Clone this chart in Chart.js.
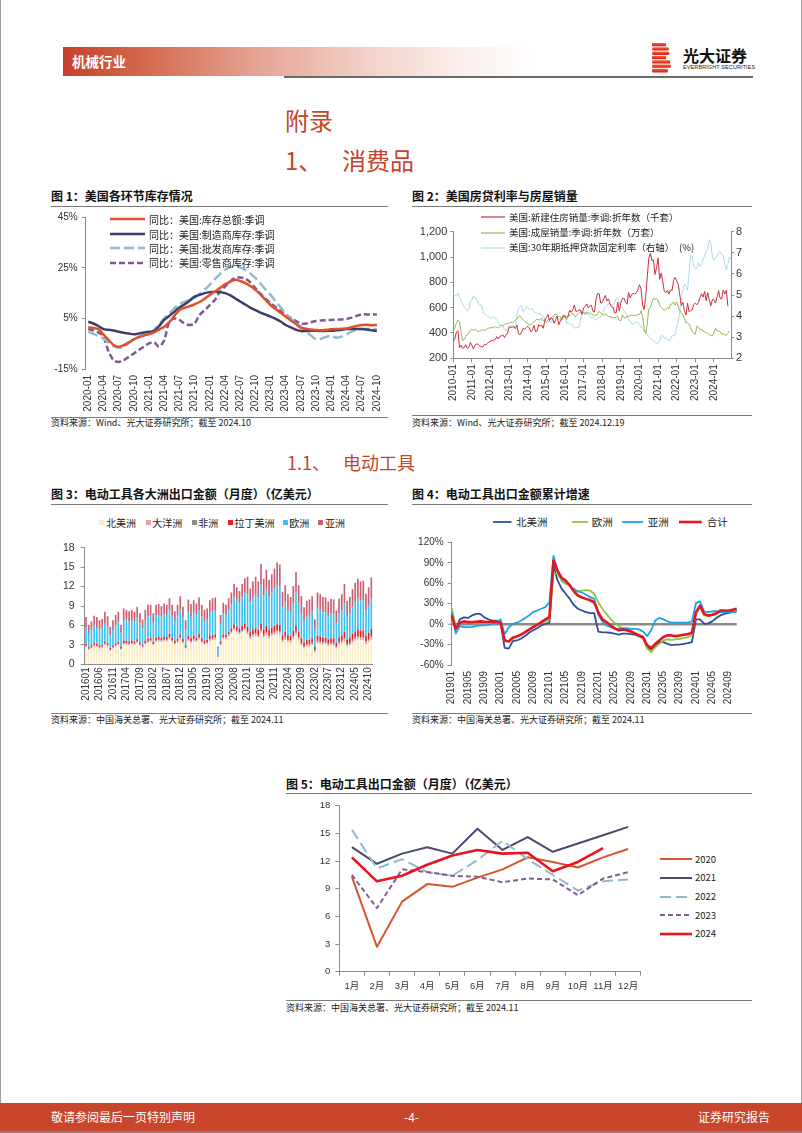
<!DOCTYPE html>
<html lang="zh-CN">
<head>
<meta charset="utf-8">
<title>机械行业 附录</title>
<script src="https://cdn.jsdelivr.net/npm/chart.js@4.4.1/dist/chart.umd.min.js"></script>
<style>
html,body{margin:0;padding:0;}
body{width:802px;height:1133px;position:relative;overflow:hidden;background:#fff;font-family:"Noto Sans CJK SC","Liberation Sans",sans-serif;color:#000;}
.a{position:absolute;white-space:nowrap;line-height:1;}
.hl{position:absolute;height:1px;background:#7a7a7a;}
.ttl{font-size:12px;font-weight:700;color:#111;}
.src{font-size:9px;color:#222;}
canvas{position:absolute;}
.lgt{position:absolute;white-space:nowrap;line-height:1;color:#222;z-index:3;}
.lgs{position:absolute;z-index:3;}
</style>
</head>
<body>
<!-- page edges -->
<div class="a" style="left:0;top:0;width:1px;height:1133px;background:#a0a0a0"></div>
<div class="a" style="left:801px;top:0;width:1px;height:1133px;background:#a0a0a0"></div>

<!-- header -->
<div class="a" style="left:63px;top:47px;width:474px;height:29px;background:linear-gradient(90deg,#C6412A 0%,#D46A50 18%,#E4A291 40%,#F2D3CA 65%,#FBF1EE 85%,#ffffff 100%)"></div>
<div class="a" style="left:72px;top:55px;font-size:13.5px;font-weight:700;color:#fff">机械行业</div>
<div class="a" style="left:284px;top:75.5px;width:469px;height:2px;background:#6a6a6a"></div>
<svg class="a" style="left:652px;top:43px" width="20" height="30" viewBox="0 0 20 30">
<defs><linearGradient id="lgr" x1="0" y1="0" x2="0" y2="1"><stop offset="0" stop-color="#F36A2B"/><stop offset="1" stop-color="#D7172B"/></linearGradient></defs>
<g fill="url(#lgr)">
<rect x="0" y="0" width="14" height="3.3"/>
<rect x="0" y="4.3" width="17" height="3.3" rx="1.6"/>
<rect x="0" y="8.6" width="17.5" height="3.3" rx="1.6"/>
<rect x="0" y="12.9" width="14" height="3.3"/>
<rect x="0" y="17.2" width="18.5" height="3.3" rx="1.6"/>
<rect x="0" y="21.5" width="19" height="3.3" rx="1.6"/>
<rect x="0" y="25.8" width="16" height="3.6" rx="1.2"/>
</g></svg>
<div class="a" style="left:683px;top:46.5px;font-size:16px;font-weight:700;color:#111">光大证券</div>
<div class="a" style="left:683px;top:64px;font-size:11px;font-family:'Liberation Sans',sans-serif;color:#222;transform:scale(0.5);transform-origin:0 0;letter-spacing:0.2px">EVERBRIGHT SECURITIES</div>

<!-- headings -->
<div class="a" style="left:285px;top:107.5px;font-size:24px;color:#C4452B">附录</div>
<div class="a" style="left:285px;top:147.5px;font-size:24px;color:#C4452B">1、</div>
<div class="a" style="left:342px;top:147.5px;font-size:24px;color:#C4452B">消费品</div>
<div class="a" style="left:287px;top:452.5px;font-size:18px;color:#C4452B">1.1、</div>
<div class="a" style="left:343px;top:452.5px;font-size:18px;color:#C4452B">电动工具</div>

<!-- figure titles, rules, sources -->
<div class="a ttl" style="left:51px;top:190px">图 1：美国各环节库存情况</div>
<div class="hl" style="left:51px;top:205.5px;width:337px"></div>
<div class="hl" style="left:51px;top:416.5px;width:337px"></div>
<div class="a src" style="left:51px;top:418px">资料来源：Wind、光大证券研究所；截至 2024.10</div>

<div class="a ttl" style="left:412px;top:190px">图 2：美国房贷利率与房屋销量</div>
<div class="hl" style="left:412px;top:205.5px;width:340px"></div>
<div class="hl" style="left:412px;top:415px;width:340px"></div>
<div class="a src" style="left:412px;top:418px">资料来源：Wind、光大证券研究所；截至 2024.12.19</div>

<div class="a ttl" style="left:51px;top:487.5px">图 3：电动工具各大洲出口金额（月度）（亿美元）</div>
<div class="hl" style="left:51px;top:503.5px;width:337px"></div>
<div class="hl" style="left:51px;top:713px;width:337px"></div>
<div class="a src" style="left:51px;top:715px">资料来源：中国海关总署、光大证券研究所；截至 2024.11</div>

<div class="a ttl" style="left:412px;top:487.5px">图 4：电动工具出口金额累计增速</div>
<div class="hl" style="left:412px;top:503.5px;width:340px"></div>
<div class="hl" style="left:412px;top:713px;width:340px"></div>
<div class="a src" style="left:412px;top:715px">资料来源：中国海关总署、光大证券研究所；截至 2024.11</div>

<div class="a ttl" style="left:286px;top:777.5px">图 5：电动工具出口金额（月度）（亿美元）</div>
<div class="hl" style="left:286px;top:792.5px;width:466px"></div>
<div class="hl" style="left:286px;top:1000px;width:466px"></div>
<div class="a src" style="left:286px;top:1003px">资料来源：中国海关总署、光大证券研究所；截至 2024.11</div>

<!-- footer -->
<div class="a" style="left:0;top:1103px;width:802px;height:28px;background:#C9452B"></div>
<div class="a" style="left:0;top:1131px;width:802px;height:2px;background:#8d7f76"></div>
<div class="a" style="left:51px;top:1111px;font-size:12px;color:#fff">敬请参阅最后一页特别声明</div>
<div class="a" style="left:404px;top:1111px;font-size:12px;color:#fff">-4-</div>
<div class="a" style="left:698px;top:1111px;font-size:12px;color:#fff">证券研究报告</div>

<script>
// ================= DATA =================
// Figure 1: US inventories YoY (%), 2020-01 .. 2024-10
const c1Names = ['同比：美国:库存总额:季调','同比：美国:制造商库存:季调','同比：美国:批发商库存:季调','同比：美国:零售商库存:季调'];
const c1Total = [1.5,1.2,0.8,-1.3,-3.5,-5.5,-6.2,-5.6,-4.5,-3.3,-2.4,-1.8,
  -1.2,-0.5,0.6,1.7,3.5,6.0,8.3,9.2,9.8,10.6,11.5,12.8,
  14.3,15.6,17.0,18.5,19.5,20.3,19.8,19.0,17.8,16.3,14.5,12.3,
  10.3,8.7,7.2,5.7,4.2,2.8,1.3,0.9,0.6,0.4,0.3,0.5,
  0.7,0.8,0.9,1.0,1.5,2.0,2.4,2.5,2.3,2.4];
const c1Manuf = [3.7,3.0,2.0,0.8,0.5,0.2,-0.3,-0.7,-1.0,-1.3,-1.0,-0.6,
  -0.3,0.0,2.0,4.4,6.0,7.6,9.3,10.5,12.0,13.6,14.3,15.0,
  15.4,15.6,15.4,15.0,14.2,13.0,11.7,10.5,9.3,8.3,7.3,6.5,
  5.7,4.8,3.8,2.4,1.5,0.6,0.0,0.0,0.1,0.1,0.0,0.1,
  0.1,0.3,0.5,0.8,0.8,0.8,0.8,0.6,0.3,0.0];
const c1Whole = [-0.3,-1.0,-2.0,-3.0,-4.5,-6.0,-6.6,-6.0,-4.8,-3.2,-2.2,-1.5,
  -1.0,0.5,2.8,5.0,7.0,9.0,10.6,11.5,12.3,13.2,14.8,16.5,
  18.3,20.5,22.5,24.2,25.3,25.8,25.2,24.2,22.8,21.0,18.8,16.5,
  14.3,11.8,9.4,7.0,5.0,3.2,1.7,0.0,-1.8,-3.2,-3.0,-2.3,
  -1.9,-2.6,-2.2,-1.3,-0.2,0.5,0.8,0.9,0.8,0.8];
const c1Retail = [0.8,0.3,-0.5,-2.2,-8.0,-11.5,-12.2,-11.5,-10.2,-8.9,-7.5,-6.2,
  -4.9,-4.5,-6.2,-3.6,3.7,5.0,4.4,3.0,2.4,3.0,6.4,8.3,
  10.3,12.3,15.6,17.6,19.6,21.0,21.2,20.7,19.3,17.0,14.8,12.8,
  11.0,9.5,8.0,6.4,5.2,4.0,3.0,3.0,3.5,4.0,4.2,4.3,
  4.4,4.5,4.6,4.8,5.3,6.0,6.6,6.6,6.5,6.6];
const c1YTicks = {min:-15, max:45, step:20};

// Figure 2: US housing, 2010-01 .. 2024-12
const c2Names = ['美国:新建住房销量:季调:折年数（千套）','美国:成屋销量:季调:折年数（万套）','美国:30年期抵押贷款固定利率（右轴）　(%)'];
const c2NewHome = [336,354,408,417,283,304,278,284,307,278,286,325,
  301,274,303,313,311,298,292,290,309,306,317,331,
  334,344,339,348,371,352,372,378,385,364,385,400,
  451,445,445,452,433,462,394,386,406,436,429,442,
  453,440,410,421,460,410,415,466,454,462,437,501,
  521,545,497,517,513,476,507,531,465,494,514,539,
  525,525,534,580,563,582,622,570,574,581,581,548,
  599,609,630,599,612,619,571,566,667,711,711,636,
  641,669,697,653,670,631,607,605,558,560,643,573,
  641,672,675,644,627,720,677,705,712,709,717,740,
  781,748,622,586,688,836,990,1029,973,977,862,915,
  993,824,874,809,728,719,737,707,741,737,816,839,
  811,785,699,618,642,571,543,637,567,577,582,625,
  636,623,640,679,710,683,728,654,719,664,615,664,
  663,637,683,736,672,668,739,709,738,610];
const c2Existing = [416,440,476,503,489,410,340,350,372,385,400,420,
  430,420,430,420,410,415,420,425,420,425,435,440,
  440,445,440,450,445,440,450,460,455,465,475,470,
  480,485,480,490,500,510,530,535,520,505,490,485,
  470,465,465,475,490,500,510,505,505,520,495,505,
  490,500,515,520,530,545,550,540,530,530,500,540,
  540,505,525,540,545,555,535,530,545,555,565,555,
  565,545,565,555,560,550,545,540,535,550,570,560,
  545,540,550,540,530,530,525,520,520,525,530,500,
  495,545,520,520,530,530,540,540,540,540,535,550,
  545,575,530,435,395,470,590,600,640,674,665,670,
  660,620,600,590,580,590,600,590,625,630,645,620,
  645,605,575,560,540,510,480,480,470,440,410,400,
  390,455,445,428,430,416,407,405,396,385,382,378,
  400,437,418,415,410,390,395,386,384,396,415];
const c2Rate = [5.03,4.99,4.97,5.10,4.89,4.74,4.56,4.43,4.35,4.23,4.30,4.71,
  4.76,4.95,4.84,4.84,4.64,4.51,4.55,4.27,4.11,4.07,3.99,3.96,
  3.92,3.89,3.95,3.91,3.80,3.68,3.55,3.60,3.50,3.38,3.35,3.35,
  3.41,3.53,3.57,3.45,3.54,4.07,4.37,4.46,4.49,4.19,4.26,4.46,
  4.43,4.30,4.34,4.34,4.19,4.16,4.13,4.12,4.16,4.04,4.00,3.86,
  3.67,3.71,3.77,3.67,3.84,3.98,4.05,3.91,3.89,3.80,3.94,3.96,
  3.87,3.66,3.69,3.61,3.60,3.57,3.44,3.44,3.46,3.47,3.77,4.20,
  4.15,4.17,4.20,4.05,4.01,3.90,3.97,3.88,3.81,3.90,3.92,3.95,
  4.03,4.33,4.44,4.47,4.59,4.57,4.53,4.55,4.63,4.83,4.87,4.64,
  4.46,4.37,4.27,4.14,4.07,3.80,3.77,3.62,3.61,3.69,3.70,3.72,
  3.62,3.47,3.45,3.31,3.23,3.16,3.02,2.94,2.89,2.83,2.77,2.68,
  2.74,2.81,3.08,3.06,2.96,2.98,2.87,2.84,2.90,3.07,3.07,3.10,
  3.45,3.76,4.17,4.98,5.23,5.52,5.41,5.22,6.11,6.90,6.81,6.36,
  6.27,6.26,6.54,6.34,6.43,6.71,6.84,7.07,7.20,7.62,7.44,6.82,
  6.64,6.78,6.82,7.04,7.06,6.92,6.85,6.50,6.18,6.43,6.81,6.70];

// Figure 3: power tool exports by continent (亿美元), 2016-01 .. 2024-11
const c3Names = ['北美洲','大洋洲','非洲','拉丁美洲','欧洲','亚洲'];
const c3NA = [2.6,2.2,2.4,2.7,2.6,2.4,2.5,2.9,2.7,2.1,2.4,2.7,
  2.9,2.2,3.0,3.0,2.9,3.0,2.9,3.2,2.8,2.5,3.0,3.3,
  3.4,2.9,3.4,3.5,3.4,3.5,3.5,3.9,3.4,3.0,3.3,3.8,
  3.2,2.4,3.6,3.3,3.6,3.4,3.8,3.3,3.0,3.1,3.6,3.7,
  3.8,1.1,2.9,3.9,3.9,4.3,4.7,5.2,4.9,4.6,4.9,5.2,
  4.6,3.9,4.2,4.3,4.1,4.8,4.1,4.5,4.0,4.3,4.5,4.7,
  4.6,3.4,3.8,3.4,3.3,3.9,4.5,3.7,2.9,2.4,2.7,2.7,
  2.9,1.9,3.2,3.1,3.0,3.0,2.8,2.9,2.9,2.4,3.0,3.2,
  3.5,2.7,2.9,3.3,3.6,3.8,3.7,3.7,3.1,3.4,3.8];
const c3OC = [0.15,0.12,0.13,0.15,0.15,0.14,0.14,0.16,0.15,0.12,0.14,0.15,
  0.16,0.12,0.17,0.17,0.16,0.17,0.16,0.18,0.16,0.14,0.17,0.18,
  0.18,0.15,0.18,0.18,0.17,0.18,0.18,0.20,0.18,0.16,0.18,0.20,
  0.17,0.13,0.19,0.18,0.19,0.18,0.20,0.18,0.16,0.17,0.19,0.20,
  0.20,0.05,0.15,0.18,0.18,0.20,0.22,0.25,0.24,0.23,0.25,0.27,
  0.28,0.24,0.27,0.29,0.27,0.33,0.28,0.31,0.28,0.30,0.32,0.34,
  0.34,0.25,0.27,0.24,0.23,0.27,0.31,0.27,0.24,0.20,0.22,0.23,
  0.24,0.16,0.25,0.25,0.24,0.24,0.22,0.23,0.23,0.19,0.23,0.25,
  0.30,0.24,0.25,0.28,0.30,0.32,0.31,0.31,0.26,0.29,0.32];
const c3AF = [0.10,0.08,0.09,0.10,0.10,0.09,0.10,0.11,0.10,0.08,0.09,0.10,
  0.11,0.09,0.12,0.12,0.11,0.12,0.11,0.12,0.11,0.10,0.12,0.13,
  0.12,0.10,0.12,0.12,0.12,0.12,0.12,0.13,0.12,0.11,0.12,0.14,
  0.12,0.09,0.13,0.12,0.13,0.12,0.13,0.12,0.11,0.11,0.13,0.13,
  0.13,0.04,0.10,0.11,0.10,0.11,0.12,0.13,0.13,0.12,0.13,0.14,
  0.16,0.14,0.16,0.17,0.16,0.19,0.17,0.19,0.17,0.18,0.19,0.20,
  0.20,0.15,0.17,0.15,0.15,0.17,0.20,0.18,0.16,0.14,0.15,0.15,
  0.18,0.12,0.19,0.19,0.18,0.18,0.17,0.18,0.18,0.15,0.18,0.19,
  0.22,0.17,0.18,0.20,0.22,0.23,0.22,0.22,0.19,0.21,0.23];
const c3LA = [0.30,0.25,0.27,0.30,0.30,0.28,0.28,0.32,0.30,0.24,0.28,0.30,
  0.34,0.26,0.36,0.35,0.34,0.35,0.34,0.37,0.33,0.29,0.35,0.38,
  0.40,0.34,0.40,0.40,0.39,0.41,0.40,0.44,0.40,0.36,0.40,0.46,
  0.42,0.32,0.47,0.44,0.47,0.44,0.49,0.43,0.40,0.41,0.47,0.48,
  0.47,0.11,0.35,0.40,0.36,0.42,0.50,0.58,0.58,0.56,0.62,0.68,
  0.75,0.65,0.75,0.80,0.78,0.95,0.82,0.90,0.80,0.85,0.90,0.95,
  0.95,0.70,0.78,0.70,0.68,0.80,0.92,0.82,0.72,0.62,0.68,0.70,
  0.72,0.48,0.78,0.76,0.73,0.72,0.68,0.71,0.70,0.58,0.71,0.76,
  0.95,0.75,0.80,0.90,1.00,1.05,1.00,1.00,0.85,0.95,1.10];
const c3EU = [2.6,2.2,2.4,2.7,2.6,2.5,2.5,2.9,2.6,2.0,2.4,2.7,
  3.0,2.2,3.2,3.1,3.1,3.1,3.0,3.3,2.9,2.5,3.1,3.4,
  3.4,2.9,3.4,3.4,3.3,3.5,3.4,3.7,3.4,3.0,3.5,3.9,
  3.3,2.5,3.7,3.4,3.6,3.4,3.7,3.3,3.0,3.1,3.6,3.7,
  3.7,1.2,2.7,3.2,3.0,3.4,3.7,4.2,4.1,3.9,4.4,4.8,
  5.1,4.6,5.0,5.3,5.0,6.1,5.2,5.7,5.1,5.4,5.8,6.1,
  6.0,4.3,4.5,3.9,3.7,4.3,5.1,4.4,3.9,3.2,3.6,3.7,
  4.1,2.7,4.3,4.1,3.9,3.9,3.6,3.8,3.7,3.0,3.7,3.9,
  4.5,3.6,3.8,4.2,4.5,4.7,4.6,4.6,3.9,4.2,4.7];
const c3AS = [1.55,1.25,1.31,1.55,1.55,1.39,1.48,1.71,1.55,1.26,1.49,1.65,
  1.59,1.23,1.75,1.66,1.58,1.66,1.59,1.73,1.60,1.37,1.66,1.81,
  1.70,1.51,1.70,1.70,1.62,1.69,1.60,1.83,1.70,1.57,1.70,2.00,
  1.69,1.36,1.91,1.86,1.91,1.86,1.98,1.87,1.73,1.71,1.91,1.99,
  2.00,0.20,1.40,1.71,1.66,1.77,1.86,2.04,1.95,1.89,2.10,2.21,
  2.61,2.17,2.42,2.64,2.49,3.13,2.63,3.00,2.65,2.87,3.09,3.41,
  3.31,2.40,2.68,2.41,2.34,2.66,3.17,2.83,2.58,2.24,2.45,2.52,
  2.36,1.54,2.38,2.40,2.35,2.26,2.23,2.28,2.29,1.98,2.28,2.50,
  2.93,2.34,2.47,2.72,2.98,3.10,2.97,3.07,2.60,2.85,3.25];

// Figure 4: cumulative YoY growth (%), 2019-01 .. 2024-11
const c4Names = ['北美洲','欧洲','亚洲','合计'];
const c4NA = [15,-7,7,10,9,12.7,15,15,10,7,5,5,
  3,-35,-36,-25,-24,-21.5,-17.6,-12.7,-9,-6,-2,0.5,
  2,86,64,52,44.5,37,28,22.5,20,17.6,16,16,
  -11,-12,-12,-12.7,-14,-15.6,-14,-14,-14.7,-15.6,-17.6,-20.5,
  -34,-37,-31,-26.4,-26.4,-29,-31,-30,-30,-29,-28,-26.4,
  7,7,0.5,1,4,9,12.7,15,16.6,17.6,18.6];
const c4EU = [23.5,-4.4,2,3,2.5,2.4,2.2,2.0,1.8,1.6,1.5,2.0,
  2,-24,-25,-20.5,-19,-15.6,-11.7,-7.8,-4.4,-1,2,4,
  7,74,74,63,59,57,49,48,49,50,49,44.5,
  32,22.5,15,7.8,2,-3,-7,-7.8,-9,-12.7,-15.6,-19,
  -36,-41,-34,-29,-24,-22.5,-23,-22.5,-21.5,-20.5,-19,-16.6,
  15,25,12.7,11.7,12.7,15,17.6,18.6,18.6,19.6,20.5];
const c4AS = [17.6,-14,-3,-4.4,-4.4,-4,-3,-2,-2,-1,0.5,2,
  7,-15,-5,0.5,2,5,9,12.7,17.6,20,22.5,25,
  32,100,79,66,61.6,56,52,48,46,43,39.6,37,
  13.7,4,-2,-4.4,-7,-7,-6,-6,-7,-7,-7.8,-11,
  -17.6,-9,5.4,9,7,4,2,2,2,2,2,4,
  31,33,18.6,17.6,18.6,19,17.6,17.6,17.6,17.6,18.6];
const c4Total = [12.7,-7,2,4,3,3,3.5,4,3.5,3,4,3,
  2,-24,-25.5,-20,-18,-15.6,-12,-8,-4.4,-1,3,7,
  10,93,78,68,64,57,48,42,39,37,35,32,
  17.6,7,3,-2,-6,-9,-8,-9,-11,-14,-16.6,-19,
  -31,-35,-29,-24,-19,-16.6,-16.6,-17.6,-16.6,-15.6,-14.7,-13,
  17.6,27,15,12.7,13.7,16,20,20,19.6,21,22.5];

// Figure 5: monthly exports (亿美元) by year
const c5Months = ['1月','2月','3月','4月','5月','6月','7月','8月','9月','10月','11月','12月'];
const c5Names = ['2020','2021','2022','2023','2024'];
const c5Y2020 = [10.3,2.7,7.6,9.5,9.2,10.2,11.1,12.4,11.9,11.3,12.4,13.3];
const c5Y2021 = [13.5,11.7,12.8,13.5,12.8,15.5,13.2,14.6,13.0,13.9,14.8,15.7];
const c5Y2022 = [15.4,11.2,12.2,10.8,10.4,12.1,14.2,12.2,10.5,8.8,9.8,10.0];
const c5Y2023 = [10.5,6.9,11.1,10.8,10.4,10.3,9.7,10.1,10.0,8.3,10.1,10.8];
const c5Y2024 = [12.4,9.8,10.4,11.6,12.6,13.2,12.8,12.9,10.9,11.9,13.4];

// ================= HELPERS =================
const FONT = '"Liberation Sans","Noto Sans CJK SC",sans-serif';
Chart.defaults.font.family = FONT;
Chart.defaults.color = '#333';
Chart.defaults.animation = false;
const AX = '#8c8c8c';

function monthLabels(y0, m0, y1, m1, sep) {
  const out = [];
  for (let y = y0, m = m0; y < y1 || (y === y1 && m <= m1); ) {
    out.push(y + sep + String(m).padStart(2, '0'));
    m++; if (m > 12) { m = 1; y++; }
  }
  return out;
}
function mkCanvas(box) {
  const c = document.createElement('canvas');
  c.width = box.w; c.height = box.h;
  c.style.left = box.x + 'px'; c.style.top = box.y + 'px';
  c.style.width = box.w + 'px'; c.style.height = box.h + 'px';
  document.body.appendChild(c);
  return c;
}
function padFor(box, area, wl, wr, hb) {
  return {left: area.l - box.x - wl, right: box.x + box.w - area.r - wr,
          top: area.t - box.y, bottom: box.y + box.h - area.b - hb};
}
function yAxis(o) {
  return {
    type: 'linear', position: o.pos || 'left', min: o.min, max: o.max,
    ticks: {stepSize: o.step, font: {size: o.fs}, color: '#333', padding: o.tp, callback: o.cb},
    grid: Object.assign({display: true, drawOnChartArea: false, drawTicks: true, tickLength: o.tl, color: AX}, o.grid || {}),
    border: {display: true, color: AX, width: 1},
    afterFit(s) { s.width = o.w; }
  };
}
function xAxis(o) {
  return {
    type: 'category', offset: o.offset, stacked: !!o.stacked,
    ticks: {autoSkip: false, maxRotation: o.rot, minRotation: o.rot, font: {size: o.fs}, color: '#333', padding: o.tp},
    grid: o.grid,
    border: {display: o.border, color: AX, width: 1},
    afterBuildTicks: o.every ? (s) => { s.ticks = s.ticks.filter(t => t.value % o.every === 0); } : undefined,
    afterFit(s) { s.height = o.h; }
  };
}
function lineLegend(items) {
  items.forEach(it => {
    const w = it.x2 - it.x1;
    const dash = it.dash && it.dash.length ? ` stroke-dasharray="${it.dash.join(' ')}"` : '';
    document.body.insertAdjacentHTML('beforeend',
      `<svg class="lgs" width="${w}" height="8" style="left:${it.x1}px;top:${it.y - 4}px"><line x1="0" y1="4" x2="${w}" y2="4" stroke="${it.color}" stroke-width="${it.width}"${dash}/></svg>` +
      `<div class="lgt" style="left:${it.tx}px;top:${(it.y - it.fs * 0.47).toFixed(1)}px;font-size:${it.fs}px">${it.text}</div>`);
  });
}
function boxLegend(items) {
  items.forEach(it => {
    document.body.insertAdjacentHTML('beforeend',
      `<div class="lgs" style="left:${it.x}px;top:${it.y - 2.5}px;width:5px;height:5px;background:${it.color}"></div>` +
      `<div class="lgt" style="left:${it.tx}px;top:${(it.y - it.fs * 0.47).toFixed(1)}px;font-size:${it.fs}px">${it.text}</div>`);
  });
}
const noGrid = {display: false, drawTicks: false};
const pct = v => v + '%';
const plain = v => String(v);

// ================= CHART 1 =================
(function () {
  const labels = monthLabels(2020, 1, 2024, 10, '-');
  const box = {x: 40, y: 204, w: 355, h: 212};
  const area = {l: 85.7, t: 217.3, r: 381.7, b: 369};
  const colors = ['#E0512A', '#3D3F6A', '#93B9CE', '#7D5A97'];
  const dashes = [[], [], [10, 4], [6, 3]];
  const series = [c1Total, c1Manuf, c1Whole, c1Retail];
  new Chart(mkCanvas(box), {
    type: 'line',
    data: {labels, datasets: series.map((d, i) => ({
      label: c1Names[i], data: d, borderColor: colors[i], borderWidth: 2.5, borderDash: dashes[i],
      pointRadius: 0, tension: 0.3, fill: false, order: i, borderJoinStyle: 'round'}))},
    options: {
      responsive: false, devicePixelRatio: 1,
      layout: {padding: padFor(box, area, 36, 0, 42)},
      plugins: {legend: {display: false}, tooltip: {enabled: false}},
      scales: {
        x: xAxis({offset: true, rot: 90, fs: 10, tp: 6, grid: noGrid, border: false, every: 3, h: 42}),
        y: yAxis({min: c1YTicks.min, max: c1YTicks.max, step: c1YTicks.step, fs: 10, tp: 4, tl: 4, w: 36, cb: pct})
      }
    }
  });
  const ys = [219.3, 234.3, 248.3, 262.5];
  lineLegend(c1Names.map((n, i) => ({x1: 110, x2: 145, y: ys[i], color: colors[i], width: 2.5, dash: dashes[i], tx: 149, text: n, fs: 10})));
})();

// ================= CHART 2 =================
(function () {
  const labels = monthLabels(2010, 1, 2024, 12, '-');
  const box = {x: 405, y: 220, w: 350, h: 192};
  const area = {l: 453.3, t: 231.7, r: 731, b: 358.3};
  const colors = ['#C8303E', '#9AB652', '#ADD9E8'];
  new Chart(mkCanvas(box), {
    type: 'line',
    data: {labels, datasets: [
      {label: c2Names[0], data: c2NewHome, borderColor: colors[0], borderWidth: 1, pointRadius: 0, tension: 0, yAxisID: 'y', order: 0},
      {label: c2Names[1], data: c2Existing, borderColor: colors[1], borderWidth: 1, pointRadius: 0, tension: 0, yAxisID: 'y', order: 1},
      {label: c2Names[2], data: c2Rate, borderColor: colors[2], borderWidth: 1, pointRadius: 0, tension: 0, yAxisID: 'y1', order: 2}
    ]},
    options: {
      responsive: false, devicePixelRatio: 1,
      layout: {padding: padFor(box, area, 40, 20, 45)},
      plugins: {legend: {display: false}, tooltip: {enabled: false}},
      scales: {
        x: xAxis({offset: false, rot: 90, fs: 10, tp: 2, border: true, every: 12, h: 45,
                  grid: {display: true, drawOnChartArea: false, drawTicks: true, tickLength: 4, color: AX}}),
        y: yAxis({min: 200, max: 1200, step: 200, fs: 11, tp: 3, tl: 3, w: 40, cb: v => v.toLocaleString('en-US')}),
        y1: yAxis({pos: 'right', min: 2, max: 8, step: 1, fs: 11, tp: 2, tl: 3, w: 20, cb: plain})
      }
    }
  });
  const ys = [217.3, 232.5, 247.9];
  lineLegend(c2Names.map((n, i) => ({x1: 481, x2: 505, y: ys[i], color: colors[i], width: 1.2, dash: [], tx: 509, text: n, fs: 9.5})));
})();

// ================= CHART 3 =================
(function () {
  const labels = monthLabels(2016, 1, 2024, 11, '');
  const box = {x: 40, y: 535, w: 345, h: 177};
  const area = {l: 84.7, t: 547.7, r: 372.7, b: 664.3};
  const colors = ['#FCEDC2', '#EE9FAC', '#8C8C8C', '#E31E24', '#3EC1EE', '#CC5E72'];
  const series = [c3NA, c3OC, c3AF, c3LA, c3EU, c3AS];
  new Chart(mkCanvas(box), {
    type: 'bar',
    data: {labels, datasets: series.map((d, i) => ({
      label: c3Names[i], data: d, backgroundColor: colors[i], borderWidth: 0,
      barPercentage: 0.62, categoryPercentage: 1.0}))},
    options: {
      responsive: false, devicePixelRatio: 1,
      layout: {padding: padFor(box, area, 34, 0, 42)},
      plugins: {legend: {display: false}, tooltip: {enabled: false}},
      scales: {
        x: xAxis({offset: true, stacked: true, rot: 90, fs: 10, tp: 3, grid: noGrid, border: true, every: 5, h: 42}),
        y: Object.assign(yAxis({min: 0, max: 18, step: 3, fs: 10.5, tp: 6, tl: 4, w: 34, cb: plain}), {stacked: true})
      }
    }
  });
  const sq = [99.3, 145.7, 191.7, 227.7, 282.7, 318.3];
  const tx = [106, 152.3, 198.3, 234.5, 289.3, 325];
  boxLegend(c3Names.map((n, i) => ({x: sq[i], y: 522.7, color: colors[i], tx: tx[i], text: n, fs: 10})));
})();

// ================= CHART 4 =================
(function () {
  const labels = monthLabels(2019, 1, 2024, 11, '');
  const box = {x: 405, y: 532, w: 350, h: 180};
  const area = {l: 451.7, t: 542.3, r: 736.7, b: 665};
  const colors = ['#2F4E9E', '#8CC63E', '#1FA3E0', '#E8141E'];
  const widths = [1.8, 1.8, 1.8, 2.6];
  const series = [c4NA, c4EU, c4AS, c4Total];
  new Chart(mkCanvas(box), {
    type: 'line',
    data: {labels, datasets: series.map((d, i) => ({
      label: c4Names[i], data: d, borderColor: colors[i], borderWidth: widths[i],
      pointRadius: 0, tension: 0, order: 3 - i, borderJoinStyle: 'round'}))},
    options: {
      responsive: false, devicePixelRatio: 1,
      layout: {padding: padFor(box, area, 38, 0, 42)},
      plugins: {legend: {display: false}, tooltip: {enabled: false}},
      scales: {
        x: xAxis({offset: false, rot: 90, fs: 10, tp: 6, grid: noGrid, border: false, every: 4, h: 42}),
        y: yAxis({min: -60, max: 120, step: 30, fs: 10, tp: 4, tl: 4, w: 38, cb: pct,
                  grid: {drawOnChartArea: true,
                         color: c => (c.tick && c.tick.value === 0) ? '#8a8a8a' : 'rgba(0,0,0,0)',
                         lineWidth: c => (c.tick && c.tick.value === 0) ? 2.5 : 1,
                         tickColor: AX, tickWidth: 1}})
      }
    }
  });
  const x1 = [493.3, 571.7, 621.7, 679], x2 = [511.7, 588.3, 643.3, 701.7], tx = [516, 591.7, 647.7, 706.7];
  lineLegend(c4Names.map((n, i) => ({x1: x1[i], x2: x2[i], y: 522.3, color: colors[i], width: widths[i], dash: [], tx: tx[i], text: n, fs: 10.5})));
})();

// ================= CHART 5 =================
(function () {
  const box = {x: 290, y: 794, w: 362, h: 206};
  const area = {l: 339.3, t: 805.7, r: 640.7, b: 971.7};
  const colors = ['#D4562C', '#4B4A6F', '#92B9CF', '#7F5E96', '#E8141E'];
  const dashes = [[], [], [11, 5], [5, 3], []];
  const widths = [2, 2, 2, 2, 2.6];
  const series = [c5Y2020, c5Y2021, c5Y2022, c5Y2023, c5Y2024];
  new Chart(mkCanvas(box), {
    type: 'line',
    data: {labels: c5Months, datasets: series.map((d, i) => ({
      label: c5Names[i], data: d, borderColor: colors[i], borderWidth: widths[i], borderDash: dashes[i],
      pointRadius: 0, tension: 0, order: 4 - i, borderJoinStyle: 'round'}))},
    options: {
      responsive: false, devicePixelRatio: 1,
      layout: {padding: padFor(box, area, 36, 0, 24)},
      plugins: {legend: {display: false}, tooltip: {enabled: false}},
      scales: {
        x: xAxis({offset: true, rot: 0, fs: 9.5, tp: 5, border: true, h: 24,
                  grid: {display: true, offset: true, drawOnChartArea: false, drawTicks: true, tickLength: 4, color: AX}}),
        y: yAxis({min: 0, max: 18, step: 3, fs: 9.5, tp: 5, tl: 4, w: 36, cb: plain})
      }
    }
  });
  const ys = [859.3, 877.9, 896.7, 915.1, 933.5];
  lineLegend(c5Names.map((n, i) => ({x1: 660, x2: 692, y: ys[i], color: colors[i], width: widths[i], dash: dashes[i], tx: 695, text: n, fs: 9.5})));
})();
</script>
</body>
</html>
